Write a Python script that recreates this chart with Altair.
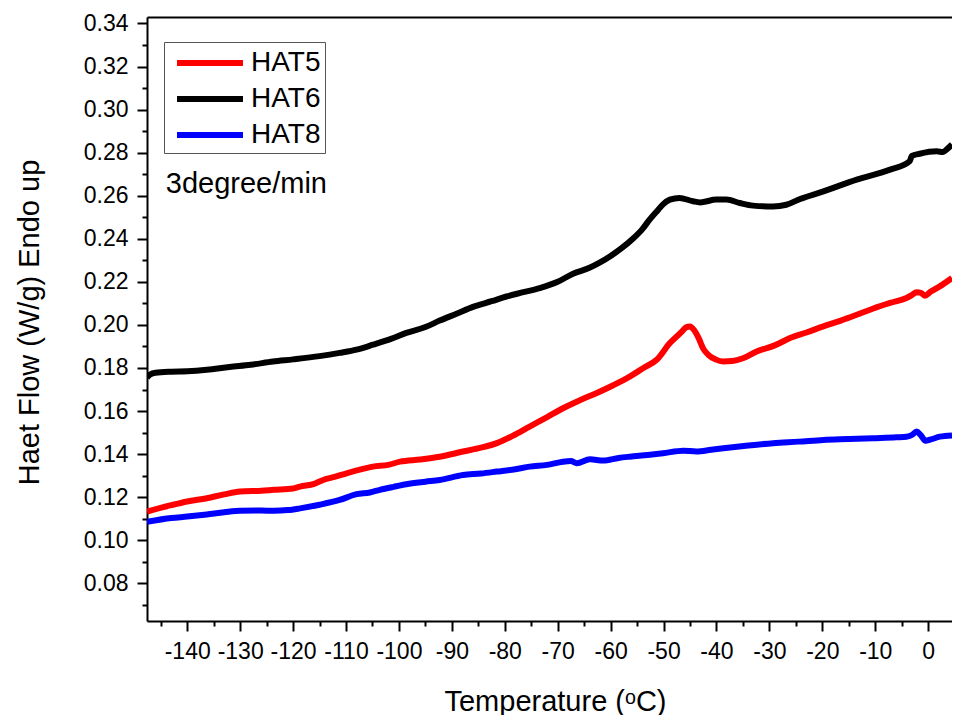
import altair as alt
import pandas as pd

# ---- data ----
hat5_t = [-147.6, -143, -140, -136.3, -133, -130, -126, -123.7, -120, -118.7, -116, -114.3, -112, -109.9,
          -107, -104.9, -102, -99.8, -96, -92.3, -87.9, -84.5, -81.5, -78.5, -75.3, -72, -69, -66, -62.7,
          -59.5, -56.4, -53.8, -51.3, -48.8, -46.5, -45.8, -45.0, -44.2, -43.3, -42.5, -41.5, -40.2, -38.7,
          -37, -35, -32.4, -29, -26.1, -23, -19.8, -16.5, -13.5, -10.5, -7.2, -4.1, -3.0, -2.2, -1.3, -0.6,
          0.5, 2.2, 4.5]
hat5_v = [0.1133, 0.1163, 0.1180, 0.1195, 0.1213, 0.1226, 0.1230, 0.1234, 0.1240, 0.1249, 0.1262, 0.1280,
          0.1295, 0.1311, 0.1330, 0.1342, 0.1350, 0.1365, 0.1375, 0.1388, 0.1412, 0.1430, 0.1451, 0.1485,
          0.1528, 0.1572, 0.1613, 0.1648, 0.1683, 0.1720, 0.1760, 0.1800, 0.1838, 0.1916, 0.1970, 0.1988,
          0.1993, 0.1975, 0.1935, 0.1890, 0.1860, 0.1840, 0.1830, 0.1832, 0.1845, 0.1877, 0.1905, 0.1939,
          0.1965, 0.1993, 0.2020, 0.2047, 0.2075, 0.2102, 0.2125, 0.2140, 0.2152, 0.2148, 0.2136, 0.2155,
          0.2179, 0.2218]

hat6_t = [-147.6, -147.0, -146.0, -143, -140, -136.3, -132, -128, -123.8, -120, -115, -111.2, -108, -104.9,
          -101.5, -98.6, -95, -92.3, -89, -86, -82.5, -79.7, -76.5, -73.4, -70, -67.1, -64, -62, -60,
          -58, -55.8, -54, -52.6, -51, -50.1, -48.8, -47.0, -44.4, -43.1, -40.0, -38.1, -35.6, -33.1, -29.3,
          -26.8, -24.2, -19.8, -13.5, -7.2, -3.5, -3.1, -1.6, 1.6, 2.8, 3.5, 4.5]
hat6_v = [0.1755, 0.1770, 0.1778, 0.1783, 0.1785, 0.1792, 0.1805, 0.1815, 0.1830, 0.1840, 0.1855, 0.1870,
          0.1885, 0.1908, 0.1935, 0.1963, 0.1990, 0.2020, 0.2053, 0.2084, 0.2110, 0.2132, 0.2152, 0.2171,
          0.2200, 0.2238, 0.2265, 0.2290, 0.2320, 0.2355, 0.2400, 0.2445, 0.2490, 0.2535, 0.2560, 0.2582,
          0.2590, 0.2574, 0.2569, 0.2582, 0.2582, 0.2566, 0.2554, 0.2550, 0.2558, 0.2585, 0.2620, 0.2675,
          0.2721, 0.2760, 0.2785, 0.2795, 0.2806, 0.2803, 0.2815, 0.2838]

hat8_t = [-147.6, -143, -140, -136.3, -133, -130, -126, -123.7, -121, -118.7, -115, -111.2, -108, -105.5,
          -103.6, -101, -98.6, -95, -92.3, -87.9, -84.5, -81.5, -78, -75.3, -72, -69, -67.5, -66.4, -63.9,
          -61.4, -58.5, -56.4, -53, -50.1, -46.3, -43.8, -41, -38.7, -34, -29.3, -24.5, -19.8, -15, -10.4,
          -6, -4.1, -3.0, -2.2, -1.4, -0.5, 0.5, 2.2, 4.5]
hat8_v = [0.1086, 0.1103, 0.1110, 0.1120, 0.1130, 0.1137, 0.1138, 0.1137, 0.1140, 0.1148, 0.1165, 0.1187,
          0.1214, 0.1222, 0.1234, 0.1248, 0.1260, 0.1272, 0.1280, 0.1303, 0.1310, 0.1319, 0.1330, 0.1342,
          0.1350, 0.1365, 0.1368, 0.1358, 0.1376, 0.1370, 0.1382, 0.1388, 0.1396, 0.1404, 0.1416, 0.1412,
          0.1420, 0.1427, 0.1440, 0.1451, 0.1458, 0.1466, 0.1470, 0.1474, 0.1478, 0.1481, 0.1490, 0.1505,
          0.1488, 0.1462, 0.1468, 0.1481, 0.1487]

series_names = ["HAT5", "HAT6", "HAT8"]
series_colors = ["#ff0000", "#000000", "#0000ff"]

x_major = [-140, -130, -120, -110, -100, -90, -80, -70, -60, -50, -40, -30, -20, -10, 0]
x_minor = [-145, -135, -125, -115, -105, -95, -85, -75, -65, -55, -45, -35, -25, -15, -5, 5]
y_major = [0.08, 0.10, 0.12, 0.14, 0.16, 0.18, 0.20, 0.22, 0.24, 0.26, 0.28, 0.30, 0.32, 0.34]
y_minor = [0.07, 0.09, 0.11, 0.13, 0.15, 0.17, 0.19, 0.21, 0.23, 0.25, 0.27, 0.29, 0.31, 0.33]
x_domain = [-147.6, 4.5]
y_domain = [0.0625, 0.343]

annotation_text = ["3degree/min"]
annotation_t = [-144.05]
annotation_v = [0.2614]

x_title = "Temperature (\u1d52C)"
y_title = "Haet Flow (W/g) Endo up"

# ---- build tables ----
rows = []
for name, ts, vs in [("HAT5", hat5_t, hat5_v), ("HAT6", hat6_t, hat6_v), ("HAT8", hat8_t, hat8_v)]:
    for i, (t, v) in enumerate(zip(ts, vs)):
        rows.append({"t": t, "v": v, "series": name, "order": i})
df = pd.DataFrame(rows)
ann = pd.DataFrame({"t": annotation_t, "v": annotation_v, "label": annotation_text})

FONT = "Liberation Sans"
xscale = alt.Scale(domain=x_domain, nice=False, zero=False)
yscale = alt.Scale(domain=y_domain, nice=False, zero=False)

lines = alt.Chart(df).mark_line(strokeWidth=6, interpolate="monotone", clip=True).encode(
    x=alt.X("t:Q", scale=xscale,
            axis=alt.Axis(orient="bottom", values=x_major, title=x_title,
                          labelExpr="'' + datum.value", tickSize=10,
                          labelFlush=False, labelOverlap=False,
                          titleX=408, titleY=80, titleBaseline="middle", titleAlign="center")),
    y=alt.Y("v:Q", scale=yscale,
            axis=alt.Axis(orient="left", values=y_major, title=y_title, format=".2f", tickSize=10,
                          labelFlush=False, labelOverlap=False,
                          titleX=-118, titleY=305, titleAngle=-90, titleBaseline="middle", titleAlign="center")),
    color=alt.Color("series:N", scale=alt.Scale(domain=series_names, range=series_colors),
                    legend=alt.Legend(orient="none", legendX=17, legendY=25, title=None,
                                      symbolType="M-2.357,0H2.357", symbolSize=784, symbolStrokeWidth=6,
                                      symbolOffset=25,
                                      labelFontSize=28, labelFont=FONT, labelColor="black",
                                      strokeColor="#555555", fillColor="white", padding=4,
                                      labelOffset=24, rowPadding=5)),
    order="order:Q",
)

minor = alt.Chart(ann).mark_point(opacity=0).encode(
    x=alt.X("t:Q", scale=xscale,
            axis=alt.Axis(orient="bottom", values=x_minor, labels=False, domain=False, tickSize=5, title=None)),
    y=alt.Y("v:Q", scale=yscale,
            axis=alt.Axis(orient="left", values=y_minor, labels=False, domain=False, tickSize=5, title=None)),
)

text = alt.Chart(ann).mark_text(align="left", baseline="alphabetic", fontSize=29, font=FONT, color="black").encode(
    x=alt.X("t:Q", scale=xscale,
            axis=alt.Axis(orient="top", labels=False, ticks=False, title=None, domainWidth=2,
                          domainColor="black")),
    y=alt.Y("v:Q", scale=yscale, axis=None),
    text="label:N",
)

chart = alt.layer(lines, minor, text).resolve_axis(x="independent", y="independent").properties(
    width=805, height=604,
    autosize=alt.AutoSizeParams(type="none"),
    padding={"left": 139, "top": 9, "right": 0, "bottom": 94},
).configure_view(stroke=None).configure_axis(
    domainColor="black", domainWidth=2, tickColor="black", tickWidth=2,
    labelFont=FONT, labelFontSize=23, labelColor="black", labelPadding=9,
    titleFont=FONT, titleFontSize=29, titleColor="black", titleFontWeight="normal",
    grid=False,
)

chart.save("out.html", embed_options={"renderer": "svg", "actions": False})
